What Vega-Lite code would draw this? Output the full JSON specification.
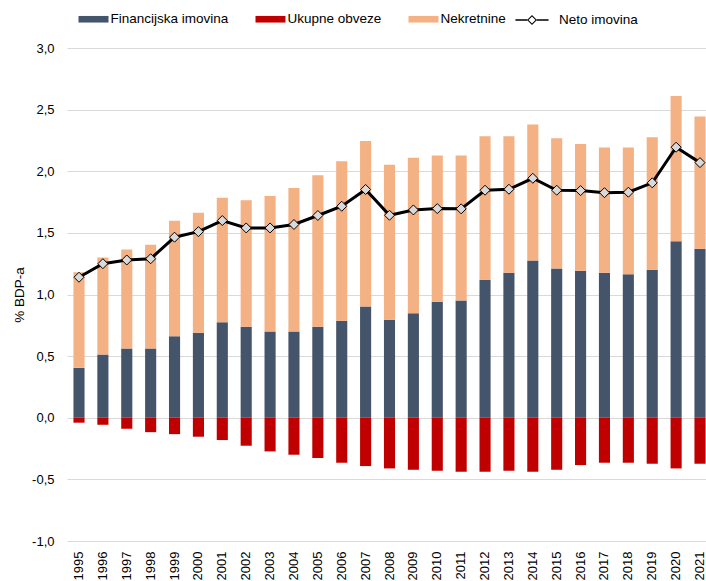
{
  "$schema": "https://vega.github.io/schema/vega-lite/v6.json",
  "autosize": {"type": "none"},
  "padding": {"left": 67, "top": 48, "right": 0, "bottom": 40},
  "width": 645,
  "height": 493,
  "background": "white",
  "config": {
    "font": "Liberation Sans",
    "view": {"stroke": null},
    "axis": {"labelFont": "Liberation Sans", "titleFont": "Liberation Sans", "labelColor": "#000", "titleColor": "#000"}
  },
  "data": {
    "values": [
      {"godina": "1995", "Financijska imovina": 0.405, "Nekretnine": 0.775, "Ukupne obveze": -0.04, "neto": 1.14},
      {"godina": "1996", "Financijska imovina": 0.513, "Nekretnine": 0.787, "Ukupne obveze": -0.057, "neto": 1.25},
      {"godina": "1997", "Financijska imovina": 0.562, "Nekretnine": 0.803, "Ukupne obveze": -0.089, "neto": 1.28},
      {"godina": "1998", "Financijska imovina": 0.562, "Nekretnine": 0.841, "Ukupne obveze": -0.117, "neto": 1.29},
      {"godina": "1999", "Financijska imovina": 0.662, "Nekretnine": 0.936, "Ukupne obveze": -0.133, "neto": 1.465},
      {"godina": "2000", "Financijska imovina": 0.689, "Nekretnine": 0.974, "Ukupne obveze": -0.154, "neto": 1.51},
      {"godina": "2001", "Financijska imovina": 0.775, "Nekretnine": 1.009, "Ukupne obveze": -0.181, "neto": 1.6},
      {"godina": "2002", "Financijska imovina": 0.738, "Nekretnine": 1.027, "Ukupne obveze": -0.227, "neto": 1.54},
      {"godina": "2003", "Financijska imovina": 0.7, "Nekretnine": 1.1, "Ukupne obveze": -0.273, "neto": 1.54},
      {"godina": "2004", "Financijska imovina": 0.7, "Nekretnine": 1.165, "Ukupne obveze": -0.3, "neto": 1.568},
      {"godina": "2005", "Financijska imovina": 0.738, "Nekretnine": 1.23, "Ukupne obveze": -0.327, "neto": 1.641},
      {"godina": "2006", "Financijska imovina": 0.787, "Nekretnine": 1.294, "Ukupne obveze": -0.365, "neto": 1.716},
      {"godina": "2007", "Financijska imovina": 0.903, "Nekretnine": 1.343, "Ukupne obveze": -0.392, "neto": 1.852},
      {"godina": "2008", "Financijska imovina": 0.795, "Nekretnine": 1.257, "Ukupne obveze": -0.411, "neto": 1.643},
      {"godina": "2009", "Financijska imovina": 0.848, "Nekretnine": 1.261, "Ukupne obveze": -0.422, "neto": 1.686},
      {"godina": "2010", "Financijska imovina": 0.941, "Nekretnine": 1.186, "Ukupne obveze": -0.43, "neto": 1.697},
      {"godina": "2011", "Financijska imovina": 0.951, "Nekretnine": 1.176, "Ukupne obveze": -0.438, "neto": 1.695},
      {"godina": "2012", "Financijska imovina": 1.119, "Nekretnine": 1.165, "Ukupne obveze": -0.438, "neto": 1.846},
      {"godina": "2013", "Financijska imovina": 1.176, "Nekretnine": 1.108, "Ukupne obveze": -0.43, "neto": 1.854},
      {"godina": "2014", "Financijska imovina": 1.276, "Nekretnine": 1.103, "Ukupne obveze": -0.438, "neto": 1.943},
      {"godina": "2015", "Financijska imovina": 1.211, "Nekretnine": 1.057, "Ukupne obveze": -0.422, "neto": 1.846},
      {"godina": "2016", "Financijska imovina": 1.192, "Nekretnine": 1.03, "Ukupne obveze": -0.384, "neto": 1.843},
      {"godina": "2017", "Financijska imovina": 1.176, "Nekretnine": 1.016, "Ukupne obveze": -0.365, "neto": 1.826},
      {"godina": "2018", "Financijska imovina": 1.165, "Nekretnine": 1.027, "Ukupne obveze": -0.365, "neto": 1.83},
      {"godina": "2019", "Financijska imovina": 1.2, "Nekretnine": 1.076, "Ukupne obveze": -0.373, "neto": 1.906},
      {"godina": "2020", "Financijska imovina": 1.432, "Nekretnine": 1.179, "Ukupne obveze": -0.411, "neto": 2.195},
      {"godina": "2021", "Financijska imovina": 1.371, "Nekretnine": 1.073, "Ukupne obveze": -0.373, "neto": 2.07}
    ]
  },
  "encoding": {
    "x": {
      "field": "godina", "type": "ordinal",
      "scale": {"paddingInner": 0.535, "paddingOuter": 0.27},
      "axis": {
        "title": null, "labelAngle": -90, "labelAlign": "right", "labelBaseline": "middle",
        "labelFontSize": 13, "labelPadding": 10, "ticks": false, "domain": false, "grid": false
      }
    }
  },
  "layer": [
    {
      "transform": [{"fold": ["Financijska imovina", "Ukupne obveze", "Nekretnine"], "as": ["serija", "vrijednost"]}],
      "mark": {"type": "bar"},
      "encoding": {
        "y": {
          "field": "vrijednost", "type": "quantitative", "stack": "zero",
          "scale": {"domain": [-1, 3], "nice": false, "zero": false},
          "axis": {
            "title": "% BDP-a", "titleFontSize": 13.5, "titleFontWeight": "normal", "titlePadding": 5,
            "values": [-1, -0.5, 0, 0.5, 1, 1.5, 2, 2.5, 3],
            "labelExpr": "replace(replace(format(datum.value, '.1f'), '.', ','), '\u2212', '-')",
            "labelFontSize": 13, "labelPadding": 13, "ticks": false, "domain": false,
            "gridColor": "#D9D9D9", "gridWidth": 1
          }
        },
        "color": {
          "field": "serija", "type": "nominal",
          "scale": {
            "domain": ["Financijska imovina", "Ukupne obveze", "Nekretnine"],
            "range": ["#44546A", "#C00000", "#F4B183"]
          },
          "legend": {
            "title": null, "orient": "none", "direction": "horizontal",
            "legendX": 11.5, "legendY": -44,
            "labelFontSize": 13.5, "labelFont": "Liberation Sans", "labelColor": "#000",
            "labelOffset": 2, "columnPadding": 27, "symbolSize": 900, "symbolOpacity": 1,
            "encode": {
              "symbols": {
                "update": {
                  "shape": {"value": "M-1,-0.22H1V0.22H-1Z"},
                  "strokeWidth": {"value": 0},
                  "opacity": {"value": 1}
                }
              }
            }
          }
        },
        "order": {"field": "serija", "type": "nominal", "sort": "ascending"}
      }
    },
    {
      "mark": {"type": "line", "strokeWidth": 3, "color": "#000000"},
      "encoding": {
        "y": {"field": "neto", "type": "quantitative"}
      }
    },
    {
      "mark": {"type": "point", "shape": "diamond", "filled": true, "fill": "#D9D9D9", "stroke": "#000000", "strokeWidth": 1, "size": 100, "opacity": 1},
      "encoding": {
        "y": {"field": "neto", "type": "quantitative"}
      }
    },
    {
      "transform": [{"filter": "false"}],
      "mark": {"type": "point", "filled": true, "color": "#000000", "fill": "#000000", "strokeWidth": 0, "opacity": 1},
      "encoding": {
        "y": {"field": "neto", "type": "quantitative"},
        "shape": {
          "datum": "Neto imovina",
          "scale": {"range": ["M-1,-0.045H-0.29V0.045H-1ZM0.29,-0.045H1V0.045H0.29ZM0,-0.3L0.3,0L0,0.3L-0.3,0ZM0,-0.21L-0.21,0L0,0.21L0.21,0Z"]},
          "legend": {
            "title": null, "orient": "none", "direction": "horizontal",
            "legendX": 447.5, "legendY": -45.5,
            "labelFontSize": 13.5, "labelFont": "Liberation Sans", "labelColor": "#000",
            "labelOffset": 9.5, "symbolSize": 1100, "symbolOpacity": 1,
            "symbolFillColor": "#000000",
            "encode": {
              "symbols": {
                "update": {
                  "fill": {"signal": "'#000000'"},
                  "opacity": {"signal": "1"}
                }
              }
            }
          }
        }
      }
    }
  ]
}
